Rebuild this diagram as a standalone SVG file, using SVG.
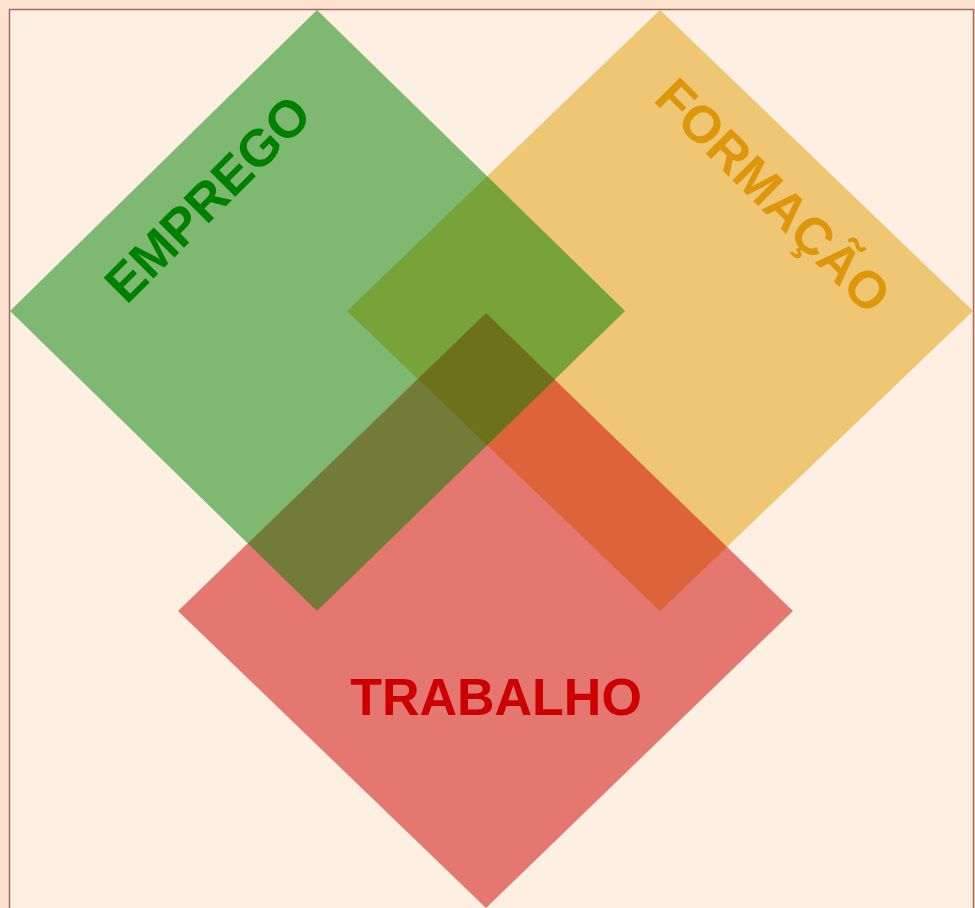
<svg xmlns="http://www.w3.org/2000/svg" width="975" height="908" viewBox="0 0 975 908">
<style>
.lbl{font-family:"Liberation Sans",Arial,sans-serif;font-weight:bold;font-size:52px;text-anchor:middle}
</style>
<rect x="0" y="0" width="975" height="908" fill="#fde3cf"/>
<rect x="9.5" y="9.5" width="964" height="910" fill="#fdf0e2" stroke="#a8645e" stroke-width="1.5"/>
<g id="formacao">
<polygon points="660,10 973,311 660,611 347,311" fill="#e19c04" fill-opacity="0.5"/>
</g>
<g id="trabalho">
<polygon points="486,313 793,611 486,908 178,611" fill="#cc0000" fill-opacity="0.5"/>
</g>
<g id="emprego">
<polygon points="317,10 625,311 317,611 10,311" fill="#008000" fill-opacity="0.5"/>
</g>
<g id="labels">
<text class="lbl" fill="#008000" transform="translate(207,198) rotate(-45)" y="19">EMPREGO</text>
<text class="lbl" fill="#de960a" transform="translate(774,195) rotate(45)" y="19">FORMAÇÃO</text>
<text class="lbl" fill="#cc0000" x="496" y="715">TRABALHO</text>
</g>
</svg>
